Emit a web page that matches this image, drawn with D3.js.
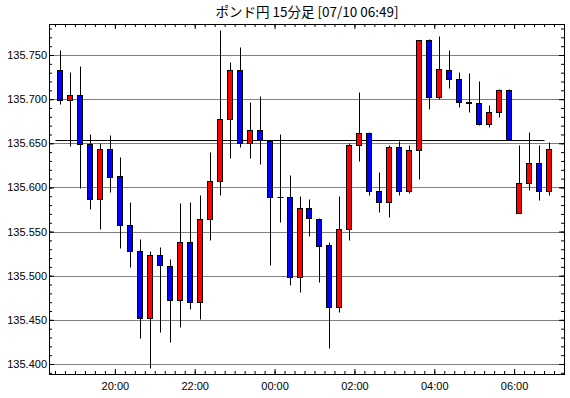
<!DOCTYPE html>
<html>
<head>
<meta charset="utf-8">
<script src="https://cdn.jsdelivr.net/npm/d3@7"></script>
<style>
  body { margin: 0; background: #fff; }
  .tick text { font-family: "Liberation Sans", Arial, sans-serif; font-size: 11px; fill: #000; }
  .tick line { stroke: #000; }
</style>
</head>
<body>
<div id="chart"></div>
<script>
// 15-minute candles, 07/09 18:30 -> 07/10 06:45
var startTime = new Date(2019, 6, 9, 18, 30);
var openVals  = [135.733,135.699,135.705,135.649,135.587,135.643,135.613,135.557,135.528,135.452,
                 135.523,135.511,135.472,135.538,135.470,135.564,135.607,135.677,135.733,135.650,
                 135.665,135.653,135.589,135.589,135.498,135.577,135.564,135.535,135.465,135.553,
                 135.648,135.662,135.596,135.584,135.646,135.596,135.642,135.767,135.702,135.733,
                 135.723,135.697,135.696,135.672,135.686,135.710,135.571,135.605,135.628,135.596];
var highVals  = [135.756,135.731,135.738,135.660,135.650,135.659,135.635,135.584,135.542,135.528,
                 135.532,135.519,135.582,135.583,135.591,135.640,135.778,135.742,135.759,135.697,
                 135.704,135.654,135.660,135.614,135.590,135.587,135.565,135.538,135.590,135.650,
                 135.708,135.663,135.618,135.648,135.653,135.648,135.767,135.768,135.771,135.756,
                 135.731,135.730,135.721,135.693,135.712,135.711,135.648,135.663,135.648,135.651];
var lowVals   = [135.695,135.647,135.599,135.575,135.553,135.595,135.531,135.510,135.429,135.395,
                 135.436,135.425,135.442,135.462,135.451,135.541,135.591,135.633,135.646,135.633,
                 135.627,135.512,135.561,135.489,135.482,135.545,135.493,135.418,135.459,135.541,
                 135.630,135.591,135.572,135.567,135.591,135.594,135.610,135.689,135.700,135.713,
                 135.691,135.685,135.671,135.668,135.680,135.654,135.571,135.597,135.586,135.591];
var closeVals = [135.699,135.705,135.649,135.587,135.643,135.612,135.558,135.528,135.452,135.523,
                 135.512,135.472,135.538,135.470,135.564,135.607,135.677,135.733,135.650,135.665,
                 135.654,135.589,135.589,135.498,135.577,135.565,135.534,135.465,135.553,135.648,
                 135.662,135.596,135.584,135.646,135.596,135.642,135.767,135.702,135.734,135.723,
                 135.697,135.696,135.672,135.686,135.710,135.654,135.605,135.628,135.596,135.643];
var refLevel = 135.654;
var yTickVals = [135.400,135.450,135.500,135.550,135.600,135.650,135.700,135.750];
var titleText = "ポンド円 15分足 [07/10 06:49]";

var W = 570, H = 398;
var margin = {top: 24, right: 5, bottom: 24, left: 49};

var data = openVals.map(function (o, i) {
  return {
    t: d3.timeMinute.offset(startTime, i * 15),
    open: o, high: highVals[i], low: lowVals[i], close: closeVals[i]
  };
});

var x = d3.scaleTime()
  .domain([new Date(2019, 6, 9, 18, 21), new Date(2019, 6, 10, 7, 15)])
  .range([margin.left, W - margin.right - 1]);
var y = d3.scaleLinear()
  .domain([135.388673, 135.785113])
  .range([H - margin.bottom, margin.top]);

var svg = d3.select("#chart").append("svg")
  .attr("width", W)
  .attr("height", H)
  .style("display", "block");

svg.append("rect").attr("width", W).attr("height", H).attr("fill", "#fff");

var x0 = margin.left + 0.5, x1 = W - margin.right - 0.5;
var y0 = margin.top + 0.5, y1 = H - margin.bottom + 0.5;

// dotted grid
svg.append("g").selectAll("line")
  .data(yTickVals)
  .enter().append("line")
  .attr("x1", x0).attr("x2", x1)
  .attr("y1", function (d) { return Math.round(y(d)) + 0.5; })
  .attr("y2", function (d) { return Math.round(y(d)) + 0.5; })
  .attr("stroke", "#000")
  .attr("stroke-dasharray", "1,1");

// reference level line
var firstT = data[0].t, lastT = data[data.length - 1].t;
svg.append("line")
  .attr("x1", Math.round(x(firstT)) + 0.5)
  .attr("x2", Math.round(x(lastT)) + 0.5)
  .attr("y1", Math.round(y(refLevel)) + 0.5)
  .attr("y2", Math.round(y(refLevel)) + 0.5)
  .attr("stroke", "#000");

// axes: minor ticks
var minorY = d3.range(135.39, 135.786, 0.01).map(function (v) { return +v.toFixed(2); });
var minorX = d3.timeMinute.every(15).range(new Date(2019, 6, 9, 18, 30), new Date(2019, 6, 10, 7, 15));
var majorX = d3.timeHour.every(2).range(new Date(2019, 6, 9, 20, 0), new Date(2019, 6, 10, 7, 0));

function tidy(g) { g.select(".domain").remove(); }

svg.append("g").attr("transform", "translate(" + margin.left + ",0)")
  .call(d3.axisLeft(y).tickValues(minorY).tickSize(-3).tickFormat("")).call(tidy);
svg.append("g").attr("transform", "translate(" + margin.left + ",0)")
  .call(d3.axisLeft(y).tickValues(yTickVals).tickSize(-5).tickPadding(2)
    .tickFormat(d3.format(".3f"))).call(tidy);
svg.append("g").attr("transform", "translate(" + (W - margin.right - 1) + ",0)")
  .call(d3.axisRight(y).tickValues(minorY).tickSize(-3).tickFormat("")).call(tidy);
svg.append("g").attr("transform", "translate(" + (W - margin.right - 1) + ",0)")
  .call(d3.axisRight(y).tickValues(yTickVals).tickSize(-5).tickFormat("")).call(tidy);

svg.append("g").attr("transform", "translate(0," + (H - margin.bottom) + ")")
  .call(d3.axisBottom(x).tickValues(minorX).tickSize(-3).tickFormat("")).call(tidy);
svg.append("g").attr("transform", "translate(0," + (H - margin.bottom) + ")")
  .call(d3.axisBottom(x).tickValues(majorX).tickSize(-5).tickPadding(8)
    .tickFormat(d3.timeFormat("%H:%M"))).call(tidy);
svg.append("g").attr("transform", "translate(0," + margin.top + ")")
  .call(d3.axisTop(x).tickValues(minorX).tickSize(-3).tickFormat("")).call(tidy);
svg.append("g").attr("transform", "translate(0," + margin.top + ")")
  .call(d3.axisTop(x).tickValues(majorX).tickSize(-5).tickFormat("")).call(tidy);

// candles
var half = d3.timeSecond.offset;
function cx(d) { return Math.round(x(half(d.t, 450))) + 0.5; }
function py(v) { return Math.round(y(v)) + 0.5; }

var candles = svg.append("g").selectAll("g")
  .data(data)
  .enter().append("g");

candles.append("line")
  .attr("x1", cx).attr("x2", cx)
  .attr("y1", function (d) { return py(d.high); })
  .attr("y2", function (d) { return py(d.low); })
  .attr("stroke", "#000");

candles.filter(function (d) { return py(d.open) !== py(d.close); })
  .append("rect")
  .attr("x", function (d) { return cx(d) - 3; })
  .attr("width", 5)
  .attr("y", function (d) { return py(Math.max(d.open, d.close)); })
  .attr("height", function (d) { return py(Math.min(d.open, d.close)) - py(Math.max(d.open, d.close)); })
  .attr("fill", function (d) { return d.close > d.open ? "#ff0000" : "#0000ff"; })
  .attr("stroke", "#000");

candles.filter(function (d) { return py(d.open) === py(d.close); })
  .append("line")
  .attr("x1", function (d) { return cx(d) - 3; })
  .attr("x2", function (d) { return cx(d) + 3; })
  .attr("y1", function (d) { return py(d.close); })
  .attr("y2", function (d) { return py(d.close); })
  .attr("stroke", "#000");

// frame
svg.append("rect")
  .attr("x", x0).attr("y", y0)
  .attr("width", x1 - x0).attr("height", y1 - y0)
  .attr("fill", "none")
  .attr("stroke", "#000");

svg.append("text")
  .attr("x", (x0 + x1) / 2)
  .attr("y", 17)
  .attr("text-anchor", "middle")
  .style("font-family", "'Noto Sans CJK JP', sans-serif")
  .style("font-size", "13.5px")
  .style("white-space", "pre")
  .text(titleText);
</script>
</body>
</html>
